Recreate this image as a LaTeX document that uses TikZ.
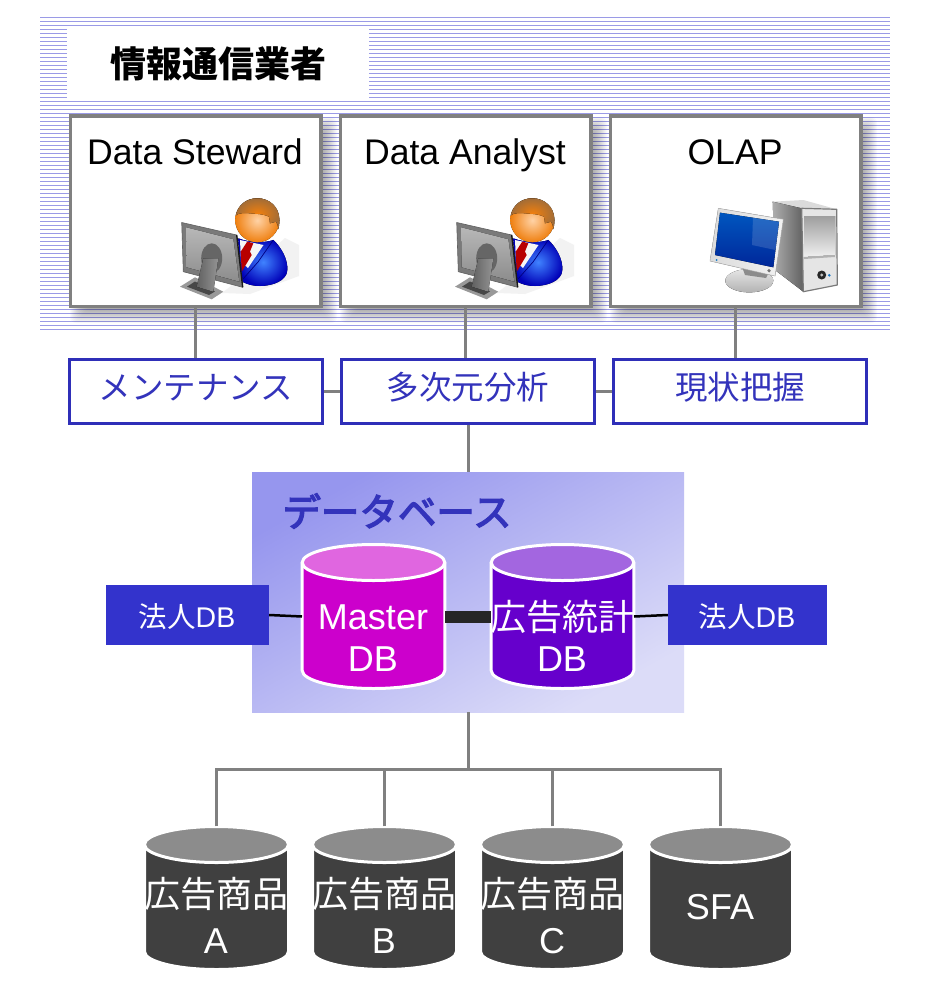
\documentclass[tikz,border=0pt]{standalone}
\usepackage{fontspec}
\setmainfont{Liberation Sans}
\newfontfamily\cjk{Noto Sans CJK JP}
\newfontfamily\cjkfat[FakeBold=3.5]{Noto Sans CJK JP}
\usetikzlibrary{calc}
\definecolor{stripe}{HTML}{9A9AE6}
\definecolor{framegray}{HTML}{808080}
\definecolor{deepblue}{HTML}{3333CC}
\definecolor{taskedge}{HTML}{2F2FB8}
\definecolor{inkblue}{HTML}{3333BB}
\definecolor{panelA}{HTML}{9696EE}
\definecolor{panelB}{HTML}{DCDCF8}
\definecolor{mastertop}{HTML}{E066E0}
\definecolor{masterbody}{HTML}{CC00CC}
\definecolor{adtop}{HTML}{A366E0}
\definecolor{adbody}{HTML}{6600CC}
\definecolor{srctop}{HTML}{8C8C8C}
\definecolor{srcbody}{HTML}{404040}
\newcommand{\fs}[1]{\fontsize{#1}{#1}\selectfont}
\tikzset{
  rolebox/.style={draw=framegray,line width=3.5pt,fill=white,minimum width=250.5pt,minimum height=190.5pt,inner sep=0pt},
  rolelabel/.style={font=\fs{35.6},text=black,inner sep=0pt,anchor=base},
  taskbox/.style={draw=taskedge,line width=3pt,fill=white,minimum width=253pt,minimum height=64pt,inner sep=0pt},
  tasklabel/.style={font=\cjk\fs{32.5},text=inkblue,inner sep=0pt},
  sidebox/.style={fill=deepblue,minimum height=60pt,inner sep=0pt},
  sidelabel/.style={text=white,font=\fs{28},inner sep=0pt},
  link/.style={draw=framegray,line width=3pt},
  cyllabel/.style={text=white,inner sep=0pt,align=center},
}
% name, cx, ytop, ybottom, rx, ry, body, top
\newcommand{\dbcyl}[8]{%
  \pgfmathsetmacro{\ya}{#3+#6}\pgfmathsetmacro{\yb}{#4-#6}
  \pgfmathsetmacro{\xl}{#2-#5}\pgfmathsetmacro{\ym}{(#3+#4)/2}
  \fill[#7] (\xl,\ya) -- (\xl,\yb) arc[start angle=180,end angle=360,x radius=#5pt,y radius=#6pt]
     -- ({#2+#5},\ya) -- cycle;
  \draw[white,line width=3pt] (\xl,\ya) -- (\xl,\yb) arc[start angle=180,end angle=360,x radius=#5pt,y radius=#6pt] -- ({#2+#5},\ya);
  \draw[white,line width=3pt,fill=#8] (#2,\ya) ellipse[x radius=#5pt,y radius=#6pt];
  \node[minimum width=2*#5 pt,minimum height={(#4-#3)*1pt},inner sep=0pt] (#1) at (#2,\ym) {};
}
\newcommand{\softshadow}[4]{%
  \foreach \e in {13,12,...,-4}{
    \fill[black,opacity=.022,rounded corners=6pt] ({#1+14-\e},{#2+14-\e}) rectangle ({#3+3+\e},{#4+3+\e});
  }
}
\newcommand{\personicon}[1]{%
\begin{scope}[shift={(#1,0)}]
  % pale floor shadow
  \fill[black!5] (222,293) -- (250,294) -- (299,276) -- (299,245) -- (285,238) -- (245,275) -- cycle;
  % body
  \fill[inner color=blue!65!cyan!75!white,outer color=blue!72!black] (238.3,238.3) .. controls (250,243) and (265,243) .. (273.3,240)
     .. controls (282,248) and (288,260) .. (287.3,270) .. controls (287,281) and (272,286) .. (260,286)
     .. controls (252,286) and (246,284) .. (241,281) -- cycle;
  % shirt and tie
  \fill[black!4] (240,240) -- (263.5,245) -- (248,268) -- (241,262) -- cycle;
  \fill[red!72!black] (247.3,241.5) -- (253.3,243.3) -- (250,251.5) -- (251.7,255) -- (241.7,271.7) -- (240.7,251.7) -- cycle;
  \draw[blue!50!black,line width=.7pt] (243,279) -- (258,262) -- (273.3,240);
  % head
  \fill[inner color=orange!35!white,outer color=orange!75!brown] (257.3,220.3) circle[radius=22pt];
  \fill[inner color=orange!80!brown,outer color=brown!85!black] (235.6,215.5) .. controls (238,205) and (246,198.3) .. (257.3,198.3)
     .. controls (270,198.3) and (279,207) .. (279.4,219) .. controls (279.5,224) and (279,227) .. (278.3,229.3)
     .. controls (278,225) and (277,223) .. (276,221.7) -- (270,223.3) -- (269,216.7)
     .. controls (262,213.5) and (256,214) .. (251.7,213.5) .. controls (245,212.5) and (238,213) .. (235.6,215.5) -- cycle;
  % monitor
  \fill[black!52,draw=black!62,line width=.6pt,line join=round] (181.7,222.5) -- (236.7,235) -- (242.7,287.3) -- (183.3,271.7) -- cycle;
  \fill[top color=black!28,bottom color=black!45] (186,227.3) -- (233.3,239.3) -- (239.3,281.7) -- (186.7,267.3) -- cycle;
  \fill[black!60] (211.7,258.3) ellipse[x radius=10.5pt,y radius=15pt];
  \fill[black!40] (180,286.7) -- (195,277.3) -- (223.3,291.7) -- (211.7,299.3) -- cycle;
  \fill[black!72] (187,286.7) -- (195,281.5) -- (215,291.5) -- (209,295) -- cycle;
  \fill[left color=black!62,right color=black!42] (203.3,258.3) -- (218.3,258.3) -- (213.3,291.7) -- (196.7,286.7) -- cycle;
  \draw[black!90,line width=1.4pt] (236.7,235) -- (242.7,287.3);
\end{scope}}
\begin{document}
\begin{tikzpicture}[x=1pt,y=-1pt]
\useasboundingbox (0,0) rectangle (926,998);
\fill[white] (0,0) rectangle (926,998);
% striped band
\foreach \k in {0,...,78}{
  \draw[stripe,line width=1pt] (40,{17.3+4*\k}) -- (890,{17.3+4*\k});
}
\fill[white] (67,28) rectangle (369,101);
\node[font=\cjk\bfseries\fs{36},text=black,inner sep=0pt] (title) at (218,64) {情報通信業者};
% shadows
\softshadow{69}{116}{321}{307}
\softshadow{339}{116}{591}{307}
\softshadow{609}{116}{861}{307}
% upper role boxes
\node[rolebox] (steward) at (195.5,211) {};
\node[rolebox] (analyst) at (465.5,211) {};
\node[rolebox] (olap) at (735.5,211) {};
\node[rolelabel] (stewardt) at (195,164) {Data Steward};
\node[rolelabel] (analystt) at (465,164) {Data Analyst};
\node[rolelabel] (olapt) at (735,164) {OLAP};
\personicon{0}
\personicon{275}
% computer icon
\begin{scope}
  \fill[black!14] (772.7,201.7) -- (803.3,200) -- (836.7,209.3) -- (801.7,208.3) -- cycle;
  \fill[left color=black!32,right color=black!62] (772.7,201.7) -- (801.7,208.3) -- (803.3,291.7) -- (775,270) -- cycle;
  \fill[black!10,draw=black!52,line width=1.2pt,line join=round] (801.7,208.3) -- (836.7,209.3) -- (837.3,285) -- (803.3,291.7) -- cycle;
  \fill[top color=black!38,bottom color=black!6] (804,216) -- (835,216) -- (835,255) -- (804,257) -- cycle;
  \fill[black!30] (804,257) -- (835,255) -- (835,257) -- (804,259) -- cycle;
  \fill[black!85] (821.7,275) circle[radius=4.5pt];
  \fill[black!25] (821.7,275) circle[radius=1.6pt];
  \fill[cyan!55!blue] (829.3,275.3) circle[radius=1.4pt];
  \fill[top color=black!10,bottom color=black!30] (749.3,280.7) ellipse[x radius=24pt,y radius=11.7pt];
  \fill[black!45] (741,264) -- (770,270) -- (766,278) -- (745,275) -- cycle;
  \fill[left color=black!14,right color=black!5,draw=black!28,line width=.5pt,line join=round] (718.3,208.3) -- (783.3,219.3) -- (775,276) -- (710,261) -- cycle;
  \fill[top color=blue!55!cyan!75!black,bottom color=blue!75!cyan!60!black] (720,212.7) -- (779,221.7) -- (773.3,267.3) -- (715,255) -- cycle;
  \fill[white,opacity=.14] (753,217.7) -- (779,221.7) -- (775.5,250) -- (752,245) -- cycle;
  \fill[black!55] (769,270.7) circle[radius=1.8pt];
  \fill[cyan!60!blue] (716.7,260) circle[radius=1pt];
\end{scope}
% task boxes
\node[taskbox] (maint) at (196,391) {};
\node[taskbox] (multi) at (468,391) {};
\node[taskbox] (status) at (740,391) {};
\node[tasklabel] (maintt) at (196,387.5) {メンテナンス};
\node[tasklabel] (multit) at (468,387.5) {多次元分析};
\node[tasklabel] (statust) at (740,387.5) {現状把握};
% database panel
\shade[shading=axis,top color=panelA,bottom color=panelB,shading angle=29] (252,472) rectangle (684,712);
\node[minimum width=432pt,minimum height=240pt,inner sep=0pt] (dbarea) at (468,592) {};
\node[font=\cjkfat\fs{38.5},text=inkblue,inner sep=0pt] (dbtitle) at (397,511) {データベース};
\dbcyl{master}{373.5}{544.5}{688.5}{71.3}{18}{masterbody}{mastertop}
\dbcyl{adstat}{562.5}{544.5}{688.5}{71.3}{18}{adbody}{adtop}
\node[cyllabel,font=\fs{36}] (mastert) at (373,617) {Master};
\node[cyllabel,font=\fs{36}] (masterd) at (373,659) {DB};
\node[cyllabel,font=\cjk\fs{36}] (adstatt) at (562,617) {広告統計};
\node[cyllabel,font=\fs{36}] (adstatd) at (562,659) {DB};
\node[sidebox,minimum width=163pt] (corpL) at (187.5,615) {};
\node[sidebox,minimum width=159pt] (corpR) at (747.5,615) {};
\node[sidelabel] (corpLt) at (187,616.5) {\cjk\fs{28.5}法人\fontspec{Liberation Sans}DB};
\node[sidelabel] (corpRt) at (747,616.5) {\cjk\fs{28.5}法人\fontspec{Liberation Sans}DB};
% source cylinders
\dbcyl{srcA}{216.5}{826.5}{969.5}{72}{18}{srcbody}{srctop}
\dbcyl{srcB}{384.5}{826.5}{969.5}{72}{18}{srcbody}{srctop}
\dbcyl{srcC}{552.5}{826.5}{969.5}{72}{18}{srcbody}{srctop}
\dbcyl{srcD}{720.5}{826.5}{969.5}{72}{18}{srcbody}{srctop}
\node[cyllabel,font=\cjk\fs{36}] (srcAt) at (216,894) {広告商品};
\node[cyllabel,font=\fs{36}] (srcAu) at (216,941) {A};
\node[cyllabel,font=\cjk\fs{36}] (srcBt) at (384,894) {広告商品};
\node[cyllabel,font=\fs{36}] (srcBu) at (384,941) {B};
\node[cyllabel,font=\cjk\fs{36}] (srcCt) at (552,894) {広告商品};
\node[cyllabel,font=\fs{36}] (srcCu) at (552,941) {C};
\node[cyllabel,font=\fs{36}] (srcDt) at (720,907) {SFA};
% connectors
\draw[link] (steward.south) -- (steward.south |- maint.north);
\draw[link] (analyst.south) -- (analyst.south |- multi.north);
\draw[link] (olap.south) -- (olap.south |- status.north);
\draw[link] (maint.east) -- (multi.west);
\draw[link] (multi.east) -- (status.west);
\draw[link] (multi.south) -- (dbarea.north);
\coordinate (bus) at (468,769);
\draw[link] (dbarea.south) -- (bus);
\draw[link] (srcA.north) |- (bus);
\draw[link] (srcB.north) |- (bus);
\draw[link] (srcC.north) |- (bus);
\draw[link] (srcD.north) |- (bus);
\draw[black,line width=2.5pt] (corpL.east) -- (master.west);
\draw[black,line width=2.5pt] (adstat.east) -- (corpR.west);
\draw[black!85,line width=12pt] (master.east) -- (adstat.west);
\end{tikzpicture}
\end{document}
